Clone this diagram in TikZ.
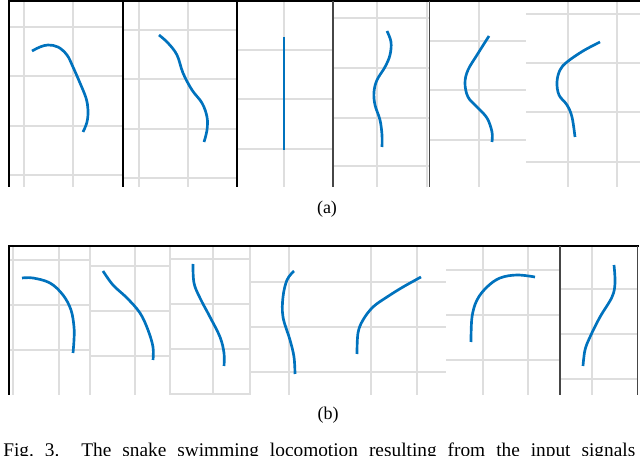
\documentclass[tikz,border=0pt]{standalone}
\usepackage{fontspec}
\setmainfont{Liberation Serif}
\definecolor{snake}{RGB}{0,114,189}
\definecolor{gridc}{RGB}{222,222,222}
\definecolor{darkb}{RGB}{70,70,70}
\begin{document}
\begin{tikzpicture}[x=0.75pt,y=-0.75pt,
  gridline/.style={draw=gridc,line width=0.8pt},
  frame/.style={draw=black,line width=1pt},
  frameg/.style={draw=darkb,line width=1pt},
  body/.style={draw=snake,line width=2pt,line cap=butt},
  lab/.style={font=\fontsize{13.5}{16}\selectfont,inner sep=0pt,anchor=base},
  caplab/.style={font=\fontsize{14.5}{17}\selectfont,inner sep=0pt,anchor=base west}]
\useasboundingbox (0,0) rectangle (640,456);
% ---------- row (a) grids ----------
% panel 1
\foreach \x in {24,73} \draw[gridline] (\x,1) -- (\x,187);
\foreach \y in {27,76,126,175} \draw[gridline] (9,\y) -- (123,\y);
% panel 2
\foreach \x in {139,188} \draw[gridline] (\x,1) -- (\x,187);
\foreach \y in {30,79,129,178} \draw[gridline] (123,\y) -- (237,\y);
% panel 3
\foreach \x in {284} \draw[gridline] (\x,1) -- (\x,187);
\foreach \y in {50,99,149} \draw[gridline] (237,\y) -- (333,\y);
% panel 4
\foreach \x in {377,427} \draw[gridline] (\x,1) -- (\x,187);
\foreach \y in {18,68,118,166} \draw[gridline] (333,\y) -- (429,\y);
% panel 5
\foreach \x in {479} \draw[gridline] (\x,1) -- (\x,187);
\foreach \y in {41,90,140} \draw[gridline] (429,\y) -- (526,\y);
% panel 6
\foreach \x in {568,617} \draw[gridline] (\x,1) -- (\x,187);
\foreach \y in {14,63,112,162} \draw[gridline] (526,\y) -- (640,\y);
% frames (a)
\draw[frame] (9,187) -- (9,1) -- (640,1);
\draw[frame] (123,1) -- (123,187);
\draw[frame] (237,1) -- (237,187);
\draw[frameg] (333,1) -- (333,187);
\draw[frameg] (429.5,1) -- (429.5,187);
% snakes (a)
\draw[body] plot[smooth,tension=0.6] coordinates {(32,51) (40,47) (48,45) (58,47) (67,55) (73,67) (80,83) (86,98) (88,110) (87,122) (83,132)};
\draw[body] plot[smooth,tension=0.6] coordinates {(159,35) (168,43) (177,55) (183,73) (192,90) (202,103) (207,117) (207,130) (204,142)};
\draw[body] (284,37) -- (284,150);
\draw[body] plot[smooth,tension=0.6] coordinates {(387,31) (391,42) (390,55) (385,67) (377,80) (374,92) (375,105) (380,120) (382,135) (382,147)};
\draw[body] plot[smooth,tension=0.6] coordinates {(489,36) (477,55) (468,70) (465,83) (468,97) (477,107) (487,118) (492,132) (492,142)};
\draw[body] plot[smooth,tension=0.6] coordinates {(600,42) (583,51) (567,62) (560,70) (557,82) (559,95) (567,105) (572,117) (575,137)};
\node[lab] (capa) at (327,214) {(a)};
% ---------- row (b) grids ----------
% b1
\foreach \x in {13,59,90} \draw[gridline] (\x,246) -- (\x,395);
\foreach \y in {260,305,350} \draw[gridline] (9,\y) -- (90,\y);
% b2
\foreach \x in {135,170} \draw[gridline] (\x,246) -- (\x,395);
\foreach \y in {266,311,356} \draw[gridline] (90,\y) -- (170,\y);
% b3
\foreach \x in {213,250} \draw[gridline] (\x,246) -- (\x,395);
\foreach \y in {259,304,349,394} \draw[gridline] (170,\y) -- (250,\y);
% b4 + b5
\foreach \x in {289,371,417} \draw[gridline] (\x,246) -- (\x,395);
\foreach \y in {282,327,372} \draw[gridline] (250,\y) -- (446,\y);
% b6
\foreach \x in {483,528} \draw[gridline] (\x,246) -- (\x,395);
\foreach \y in {270,315,360} \draw[gridline] (446,\y) -- (560,\y);
% b7
\foreach \x in {592} \draw[gridline] (\x,246) -- (\x,395);
\foreach \y in {289,334,379} \draw[gridline] (560,\y) -- (637,\y);
% frames (b)
\draw[frame] (9,395) -- (9,246) -- (639,246);
\draw[frameg] (560,246) -- (560,395);
\draw[frameg] (637.5,246) -- (637.5,395);
% snakes (b)
\draw[body] plot[smooth,tension=0.6] coordinates {(22,278) (33,278) (50,283) (63,295) (71,310) (74,327) (74,340) (73,353)};
\draw[body] plot[smooth,tension=0.6] coordinates {(103,271) (113,285) (127,298) (140,313) (148,330) (153,347) (153,360)};
\draw[body] plot[smooth,tension=0.6] coordinates {(193,264) (194,283) (200,298) (210,317) (220,337) (224,353) (224,366)};
\draw[body] plot[smooth,tension=0.6] coordinates {(294,271) (287,280) (283,297) (283,317) (290,340) (294,357) (295,374)};
\draw[body] plot[smooth,tension=0.6] coordinates {(421,277) (403,287) (387,297) (373,307) (363,320) (358,333) (357,354)};
\draw[body] plot[smooth,tension=0.6] coordinates {(535,277) (517,275) (500,278) (487,287) (477,300) (472,317) (471,342)};
\draw[body] plot[smooth,tension=0.6] coordinates {(614,265) (615,283) (612,297) (600,317) (590,337) (585,350) (583,366)};
\node[lab] (capb) at (328,420) {(b)};
% ---------- figure caption ----------
\node[caplab] (figcap) at (3,456.5) {\makebox[474pt][l]{Fig.\hfill 3.\hfill\hfill The\hfill snake\hfill swimming\hfill locomotion\hfill resulting\hfill from\hfill the\hfill input\hfill signals}};
\end{tikzpicture}
\end{document}
